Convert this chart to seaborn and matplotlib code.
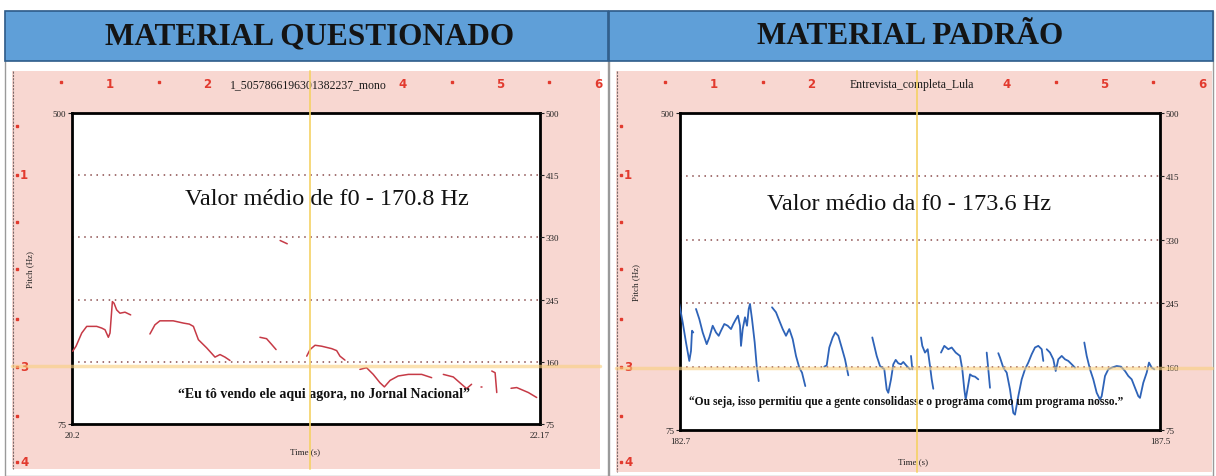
import numpy as np
import pandas as pd
import matplotlib
matplotlib.use("Agg")
import matplotlib.pyplot as plt
import seaborn as sns
from matplotlib.patches import Rectangle

sns.set_theme(style="white")
plt.rcParams['font.family'] = ['Liberation Serif', 'DejaVu Serif']

# ---------------- data ----------------
panel_titles = ["MATERIAL QUESTIONADO", "MATERIAL PADRÃO"]
file_names = ["1_5057866196301382237_mono", "Entrevista_completa_Lula"]
mean_labels = ["Valor médio de f0 - 170.8 Hz", "Valor médio da f0 - 173.6 Hz"]
quotes = ["\u201cEu tô vendo ele aqui agora, no Jornal Nacional\u201d",
          "\u201cOu seja, isso permitiu que a gente consolidasse o programa como um programa nosso.\u201d"]
y_ticks_hz = [75, 160, 245, 330, 415, 500]
y_tick_labels = ["75", "160", "245", "330", "415", "500"]
q_time_range = [20.2, 22.17]
q_time_labels = ["20.2", "22.17"]
p_time_range = [182.7, 187.5]
p_time_labels = ["182.7", "187.5"]
ruler_labels = ["1", "2", "", "4", "5", "6"]
side_labels = ["-1", "-3", "-4"]

# Material questionado (red pitch track), one array pair per voiced segment
q_t1 = [20.203, 20.217, 20.241, 20.262, 20.304, 20.325, 20.339, 20.353, 20.36, 20.37, 20.377, 20.388, 20.402, 20.423, 20.447]
q_hz1 = [174.5, 181.3, 199.3, 208.4, 208.4, 206.1, 203.8, 193.5, 199.3, 242.3, 240.0, 230.9, 226.4, 227.8, 224.1]
q_t2 = [20.528, 20.549, 20.57, 20.626, 20.669, 20.694, 20.711, 20.732, 20.767, 20.802, 20.823, 20.844, 20.865]
q_hz2 = [198.0, 210.5, 216.0, 216.0, 212.9, 211.5, 208.4, 190.2, 179.0, 166.4, 169.9, 166.4, 161.8]
q_t3 = [20.991, 21.019, 21.041, 21.059]
q_hz3 = [193.5, 191.6, 183.5, 176.7]
q_t4 = [21.076, 21.106]
q_hz4 = [325.8, 321.3]
q_t5 = [21.188, 21.202, 21.223, 21.251, 21.293, 21.314, 21.328, 21.349]
q_hz5 = [167.7, 176.7, 182.6, 181.3, 178.0, 175.3, 167.7, 162.3]
q_t6 = [21.412, 21.44, 21.468, 21.496, 21.515, 21.539, 21.573, 21.616, 21.672, 21.714]
q_hz6 = [149.6, 151.9, 142.8, 131.5, 125.7, 134.6, 140.6, 142.8, 142.8, 138.3]
q_t7 = [21.763, 21.805, 21.84, 21.861, 21.882]
q_hz7 = [142.8, 139.3, 129.3, 123.4, 129.3]
q_t8 = [21.920, 21.925]
q_hz8 = [125.0, 125.0]
q_t9 = [21.967, 21.981, 21.988]
q_hz9 = [147.4, 145.1, 118.0]
q_t10 = [22.048, 22.072, 22.121, 22.156]
q_hz10 = [123.8, 124.8, 118.0, 111.2]

# Material padrão (blue pitch track)
p_t1 = [182.693, 182.727, 182.76, 182.793, 182.81, 182.82, 182.833]
p_hz1 = [244.0, 219.3, 192.3, 167.6, 181.1, 208.1, 205.8]
p_t2 = [182.86, 182.893, 182.927, 182.967, 182.993, 183.027, 183.06, 183.087, 183.11, 183.143, 183.177, 183.21, 183.233,
        183.26, 183.28, 183.3, 183.31, 183.327, 183.35, 183.37, 183.387, 183.4, 183.42, 183.447, 183.467, 183.487]
p_hz2 = [237.3, 223.8, 205.8, 190.1, 199.1, 214.8, 205.8, 201.3, 208.1, 217.1, 214.8, 210.3, 217.1,
         223.8, 228.3, 214.8, 187.8, 210.3, 226.1, 214.8, 237.3, 244.0, 223.8, 192.3, 160.8, 140.6]
p_t3 = [183.62, 183.66, 183.693, 183.727, 183.76, 183.793, 183.827, 183.86, 183.893, 183.92, 183.953]
p_hz3 = [239.5, 232.8, 221.6, 210.3, 201.3, 210.3, 196.8, 174.3, 158.6, 151.9, 133.9]
p_t4 = [184.143, 184.167, 184.193, 184.227, 184.253, 184.283, 184.317, 184.35, 184.383]
p_hz4 = [159.9, 161.7, 185.6, 199.1, 205.8, 201.3, 185.6, 169.8, 148.3]
p_t5 = [184.623, 184.667, 184.7, 184.743, 184.767, 184.783, 184.81, 184.833, 184.857, 184.883, 184.91, 184.933, 184.967, 185.0]
p_hz5 = [199.1, 174.3, 160.8, 156.4, 129.4, 124.9, 142.9, 163.1, 169.0, 164.4, 163.1, 166.2, 160.8, 156.4]
p_t6 = [185.01, 185.023]
p_hz6 = [174.3, 156.4]
p_t7 = [185.11, 185.123, 185.15, 185.177, 185.2, 185.217, 185.233]
p_hz7 = [199.1, 187.8, 178.8, 183.3, 160.8, 142.9, 130.3]
p_t8 = [185.31, 185.343, 185.383, 185.417, 185.457, 185.5, 185.523, 185.543, 185.557, 185.583, 185.6, 185.623, 185.65, 185.683]
p_hz8 = [178.8, 187.8, 183.3, 185.6, 178.8, 174.3, 156.4, 129.4, 115.9, 136.1, 149.6, 147.4, 146.5, 142.9]
p_t9 = [185.767, 185.783, 185.8]
p_hz9 = [178.8, 156.4, 131.6]
p_t10 = [185.883, 185.9, 185.933, 185.967, 186.0, 186.033, 186.05, 186.083, 186.117, 186.15, 186.183, 186.217, 186.25,
         186.283, 186.317, 186.333]
p_hz10 = [178.0, 172.1, 158.6, 151.9, 129.4, 97.9, 95.6, 120.4, 142.9, 156.4, 165.4, 176.6, 185.6, 187.8, 183.3, 167.6]
p_t11 = [186.367, 186.4, 186.433, 186.457, 186.483, 186.517, 186.55, 186.583, 186.617, 186.65]
p_hz11 = [183.3, 178.8, 169.8, 154.1, 169.8, 174.3, 169.8, 167.6, 163.1, 158.6]
p_t12 = [186.743, 186.767, 186.8, 186.833, 186.867, 186.9, 186.917, 186.95, 186.983, 187.017, 187.067, 187.11, 187.15,
         187.183, 187.217, 187.25, 187.283, 187.3, 187.333, 187.367, 187.39, 187.417, 187.443]
p_hz12 = [192.3, 174.3, 156.4, 142.9, 124.9, 115.9, 120.4, 147.4, 156.4, 158.6, 160.8, 159.9, 154.1,
          147.4, 142.9, 131.6, 120.4, 118.1, 138.4, 151.9, 165.4, 158.6, 156.4]


def build(pairs):
    frames = []
    for i, (t, h) in enumerate(pairs):
        frames.append(pd.DataFrame({"t": t, "hz": h, "seg": i}))
    return pd.concat(frames, ignore_index=True)


q_df = build([(q_t1, q_hz1), (q_t2, q_hz2), (q_t3, q_hz3), (q_t4, q_hz4), (q_t5, q_hz5),
              (q_t6, q_hz6), (q_t7, q_hz7), (q_t8, q_hz8), (q_t9, q_hz9), (q_t10, q_hz10)])
p_df = build([(p_t1, p_hz1), (p_t2, p_hz2), (p_t3, p_hz3), (p_t4, p_hz4), (p_t5, p_hz5), (p_t6, p_hz6),
              (p_t7, p_hz7), (p_t8, p_hz8), (p_t9, p_hz9), (p_t10, p_hz10), (p_t11, p_hz11), (p_t12, p_hz12)])

# ---------------- layout ----------------
W, H = 1216, 477
fig = plt.figure(figsize=(W / 100, H / 100), dpi=100)
fig.patch.set_facecolor("white")

bg = fig.add_axes([0, 0, 1, 1], zorder=0)
bg.set_xlim(0, W)
bg.set_ylim(H, 0)
bg.axis("off")

header_blue = "#5F9FD8"
pink = "#F8D7D1"
red_txt = "#E23A2E"

# table cell borders
for x0, x1 in [(5, 608), (609, 1213)]:
    bg.add_patch(Rectangle((x0, 12), x1 - x0, 465, facecolor="white", edgecolor="#9A9A9A", lw=1.0))
    bg.add_patch(Rectangle((x0, 12), x1 - x0, 50, facecolor=header_blue, edgecolor="#2E5C8A", lw=1.2))

panels = [
    dict(hx=310, px0=12, px1=600, py1=470, ax=(72, 114, 540, 425), ylab=(30, 270), xlab=(305, 452),
         cursor_x=310, cursor_y=367, mean=(327, 200), quote=(324, 395), quote_fs=10.0),
    dict(hx=910, px0=616, px1=1212, py1=473, ax=(680, 114, 1160, 431), ylab=(636, 283), xlab=(913, 462),
         cursor_x=917, cursor_y=369, mean=(909, 205), quote=(906, 402), quote_fs=8.3),
]

for i, P in enumerate(panels):
    bg.text(P["hx"], 37, panel_titles[i], ha="center", va="center", fontsize=22.5, fontweight="bold", color="#141414")
    bg.add_patch(Rectangle((P["px0"], 72), P["px1"] - P["px0"], P["py1"] - 72, facecolor=pink, edgecolor="none"))
    bg.plot([P["px0"] + 1, P["px0"] + 1], [72, P["py1"]], color="#7A6A6A", lw=0.8, ls=(0, (2, 1)))
    # top ruler
    step = 97.6
    base = P["px0"] + 98
    for k, lab in enumerate(ruler_labels):
        xx = base + k * step
        if lab:
            bg.text(xx, 85, lab, ha="center", va="center", fontsize=8.5, color=red_txt,
                    family=["DejaVu Sans"], fontweight="bold")
        if k not in (2, 3):
            bg.plot([xx - step / 2], [83], marker="s", ms=1.8, color=red_txt, ls="none")
    bg.text(P["px0"] + 296, 85, file_names[i], ha="center", va="center", fontsize=8.5, color="#1A1A1A")
    # side ruler
    for yy in [127, 223, 270, 320, 417]:
        bg.plot([P["px0"] + 5], [yy], marker="s", ms=1.8, color=red_txt, ls="none")
    for yy, lab in zip([176, 368, 463], side_labels):
        bg.plot([P["px0"] + 5], [yy], marker="s", ms=1.8, color=red_txt, ls="none")
        bg.text(P["px0"] + 8, yy, lab[1:], ha="left", va="center", fontsize=8.5, color=red_txt,
                family=["DejaVu Sans"], fontweight="bold")
    bg.text(P["ylab"][0], P["ylab"][1], "Pitch (Hz)", rotation=90, ha="center", va="center", fontsize=6.5,
            color="#222222")
    bg.text(P["xlab"][0], P["xlab"][1], "Time (s)", ha="center", va="center", fontsize=6.5, color="#222222")

# ---------------- plots ----------------
datasets = [(q_df, q_time_range, q_time_labels, "#C63A46", 1.1),
            (p_df, p_time_range, p_time_labels, "#2E63B8", 1.3)]
axes = []
for i, (df, trange, tlabels, col, lw) in enumerate(datasets):
    P = panels[i]
    x0, y0, x1, y1 = P["ax"]
    ax = fig.add_axes([x0 / W, 1 - y1 / H, (x1 - x0) / W, (y1 - y0) / H], zorder=1)
    ax.set_facecolor("white")
    for v in y_ticks_hz[1:-1]:
        ax.axhline(v, color="#8A4B4B", lw=1.1, ls=(0, (1, 3)), zorder=1)
    sns.lineplot(data=df, x="t", y="hz", units="seg", estimator=None, sort=False, color=col, lw=lw,
                 ax=ax, legend=False, zorder=3)
    ax.set_xlim(trange)
    ax.set_ylim(75, 500)
    ax.set_xlabel("")
    ax.set_ylabel("")
    ax.set_xticks(trange)
    ax.set_xticklabels(tlabels)
    ax.set_yticks([75, 500])
    ax.set_yticklabels(["75", "500"])
    ax.tick_params(axis="x", length=0, pad=5, labelsize=6.5, colors="#222222")
    ax.tick_params(axis="y", left=True, length=3, width=0.8, pad=1, labelsize=6.5, colors="#222222")
    for s in ax.spines.values():
        s.set_visible(True)
        s.set_color("black")
        s.set_linewidth(2.0)
    ax2 = ax.twinx()
    ax2.set_ylim(75, 500)
    ax2.set_yticks(y_ticks_hz)
    ax2.set_yticklabels(y_tick_labels)
    ax2.tick_params(axis="y", right=True, length=3, width=0.8, pad=1, labelsize=6.5, colors="#222222")
    ax2.grid(False)
    for s in ax2.spines.values():
        s.set_visible(False)
    ax.text(P["mean"][0], P["mean"][1], mean_labels[i], transform=bg.transData, ha="center", va="center",
            fontsize=17.5, color="#111111", zorder=4)
    ax.text(P["quote"][0], P["quote"][1], quotes[i], transform=bg.transData, ha="center", va="center",
            fontsize=P["quote_fs"], color="#111111", fontweight="bold", zorder=4)
    axes.append(ax)

# ---------------- cursor overlay ----------------
ov = fig.add_axes([0, 0, 1, 1], zorder=5)
ov.set_xlim(0, W)
ov.set_ylim(H, 0)
ov.axis("off")
ov.patch.set_alpha(0)
for P in panels:
    ov.plot([P["cursor_x"], P["cursor_x"]], [72, P["py1"]], color="#F5D264", lw=1.4, alpha=0.85)
    ov.plot([P["px0"], P["px1"]], [P["cursor_y"], P["cursor_y"]], color="#F9CF7E", lw=2.5, alpha=0.6)

fig.savefig("out.png", dpi=100)
